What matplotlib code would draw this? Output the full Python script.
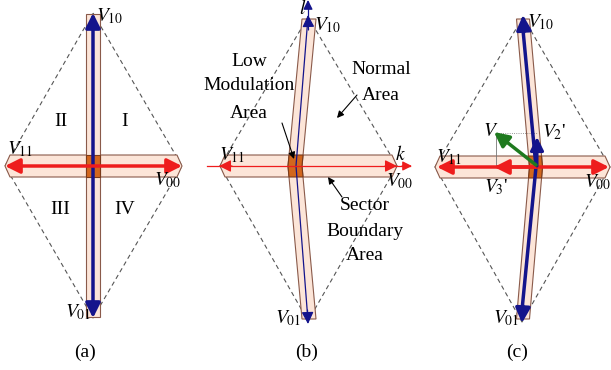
import numpy as np
import matplotlib.pyplot as plt
from matplotlib.patches import Polygon, FancyArrowPatch

plt.rcParams['font.family'] = 'Liberation Serif'
plt.rcParams['mathtext.fontset'] = 'stix'

# diamond outlines (top, right, bottom, left) in image pixels
diamond_a = [(93, 13), (182, 166), (93, 318), (5, 166)]
diamond_b = [(308, 17), (397, 166), (308, 321), (220, 166)]
diamond_c = [(523, 17), (610, 167), (522, 322), (435, 167)]

# centre line of the vertical band: top, crossing, bottom
spine_a = [(93, 14), (93, 166), (93, 317)]
spine_b = [(309, 19), (295, 166), (309, 319)]
spine_c = [(523, 19), (536, 167), (523, 319)]

BAND = '#fce5d8'
BAND_EDGE = '#8a5a4a'
CROSS = '#d2671e'
NAVY = '#14148c'
RED = '#ee1d1d'
GREEN = '#1f7a1f'


def arrow(ax, a, b, style='-|>', color='k', lw=2.5, ms=22, z=5):
    p = FancyArrowPatch(a, b, arrowstyle=style, color=color, lw=lw,
                        mutation_scale=ms, shrinkA=0, shrinkB=0, zorder=z)
    ax.add_patch(p)


def draw_base(ax, diamond, spine, hw=7, hh=11):
    xs, ys = zip(*diamond)
    ax.plot(list(xs) + [xs[0]], list(ys) + [ys[0]], color='#555555', lw=0.8,
            ls=(0, (4, 3)), zorder=1)
    cy = diamond[1][1]
    left, right = diamond[3][0], diamond[1][0]
    hband = [(left, cy), (left + 5, cy - hh), (right - 5, cy - hh), (right, cy),
             (right - 5, cy + hh), (left + 5, cy + hh)]
    ax.add_patch(Polygon(hband, closed=True, fc=BAND, ec=BAND_EDGE, lw=0.8, zorder=2))
    sx = [p[0] for p in spine]
    sy = [p[1] for p in spine]
    vband = [(x - hw, y) for x, y in spine] + [(x + hw, y) for x, y in spine[::-1]]
    ax.add_patch(Polygon(vband, closed=True, fc=BAND, ec=BAND_EDGE, lw=0.8, zorder=3))
    yy = [cy - hh, cy, cy + hh]
    xx = np.interp(yy, sy, sx)
    cross = [(x - hw, y) for x, y in zip(xx, yy)] + [(x + hw, y) for x, y in zip(xx[::-1], yy[::-1])]
    ax.add_patch(Polygon(cross, closed=True, fc=CROSS, ec='#7a3a1a', lw=0.8, zorder=4))


def vlabel(ax, x, y, s, size=14):
    ax.text(x, y, s, fontsize=size, ha='left', va='center', zorder=8)


fig = plt.figure(figsize=(6.11, 3.70), dpi=100)
ax = fig.add_axes([0, 0, 1, 1])
ax.set_xlim(0, 611)
ax.set_ylim(370, 0)
ax.axis('off')

# ---- panel (a)
draw_base(ax, diamond_a, spine_a)
arrow(ax, (93, 318), (93, 13), '<|-|>', NAVY, 2.5)
arrow(ax, (5, 166), (182, 166), '<|-|>', RED, 2.5)
vlabel(ax, 96, 16, r'$V_{10}$')
vlabel(ax, 7, 149, r'$V_{11}$')
vlabel(ax, 154, 180, r'$V_{00}$')
vlabel(ax, 65, 312, r'$V_{01}$')
for s, x, y in [('II', 61, 122), ('I', 125, 122), ('III', 60, 210), ('IV', 125, 210)]:
    ax.text(x, y, s, fontsize=14, ha='center', va='center')
ax.text(85, 352, '(a)', fontsize=14, ha='center', va='center')

# ---- panel (b)
draw_base(ax, diamond_b, spine_b)
bx = [308, 296, 308]
by = [17, 166, 321]
ax.plot(bx, by, color=NAVY, lw=0.9, zorder=5)
ax.plot([308, 308], [17, 2], color=NAVY, lw=0.9, zorder=5)
arrow(ax, (308.5, 30), (308, 15), '-|>', NAVY, 0.9, 18)
arrow(ax, (308, 8), (308, 0), '-|>', NAVY, 0.9, 14)
arrow(ax, (307.5, 310), (308, 324), '-|>', NAVY, 0.9, 18)
ax.plot([207, 410], [166, 166], color=RED, lw=0.9, zorder=5)
arrow(ax, (232, 166), (219, 166), '-|>', RED, 0.9, 18)
arrow(ax, (385, 166), (397, 166), '-|>', RED, 0.9, 18)
arrow(ax, (402, 166), (412, 166), '-|>', RED, 0.9, 14)
vlabel(ax, 314, 25, r'$V_{10}$')
vlabel(ax, 219, 155, r'$V_{11}$')
vlabel(ax, 386, 181, r'$V_{00}$')
vlabel(ax, 275, 318, r'$V_{01}$')
ax.text(303, 8, r'$l$', fontsize=14, ha='center', va='center')
ax.text(400, 155, r'$k$', fontsize=14, ha='center', va='center')
for s, y in [('Low', 62), ('Modulation', 86), ('Area', 113)]:
    ax.text(249, y, s, fontsize=14, ha='center', va='center')
for s, y in [('Normal', 70), ('Area', 96)]:
    ax.text(381, y, s, fontsize=14, ha='center', va='center')
for s, y in [('Sector', 206), ('Boundary', 231), ('Area', 256)]:
    ax.text(365, y, s, fontsize=14, ha='center', va='center')
arrow(ax, (282, 123), (294, 159), '-|>', 'k', 0.8, 10, 7)
arrow(ax, (357, 95), (337, 118), '-|>', 'k', 0.8, 10, 7)
arrow(ax, (342, 197), (328, 177), '-|>', 'k', 0.8, 10, 7)
ax.text(307, 352, '(b)', fontsize=14, ha='center', va='center')

# ---- panel (c)
draw_base(ax, diamond_c, spine_c, hw=6.5)
cx = [523, 536, 522]
cy = [30, 167, 310]
ax.plot(cx, cy, color=NAVY, lw=2.5, zorder=5)
arrow(ax, (524, 32), (523, 15), '-|>', NAVY, 2.5, 22)
arrow(ax, (523, 306), (522, 323), '-|>', NAVY, 2.5, 22)
arrow(ax, (437, 167), (609, 167), '<|-|>', RED, 2.5)
arrow(ax, (536, 167), (494, 167), '-|>', RED, 2.5)
ax.plot([496, 496], [133, 167], color='#777777', lw=0.6, zorder=4)
ax.plot([496, 538], [133, 133], color='#777777', lw=0.6, ls=':', zorder=4)
arrow(ax, (537, 166), (537, 137), '-|>', NAVY, 2.2, 20)
arrow(ax, (536, 165), (494, 132), '-|>', GREEN, 2.5, 22, 6)
vlabel(ax, 527, 22, r'$V_{10}$')
vlabel(ax, 436, 157, r'$V_{11}$')
vlabel(ax, 584, 182, r'$V_{00}$')
vlabel(ax, 493, 318, r'$V_{01}$')
vlabel(ax, 483, 131, r'$V$')
vlabel(ax, 542, 132, r"$V_{2}$'")
vlabel(ax, 484, 187, r"$V_{3}$'")
ax.text(517, 352, '(c)', fontsize=14, ha='center', va='center')

fig.savefig('out.png', dpi=100)
